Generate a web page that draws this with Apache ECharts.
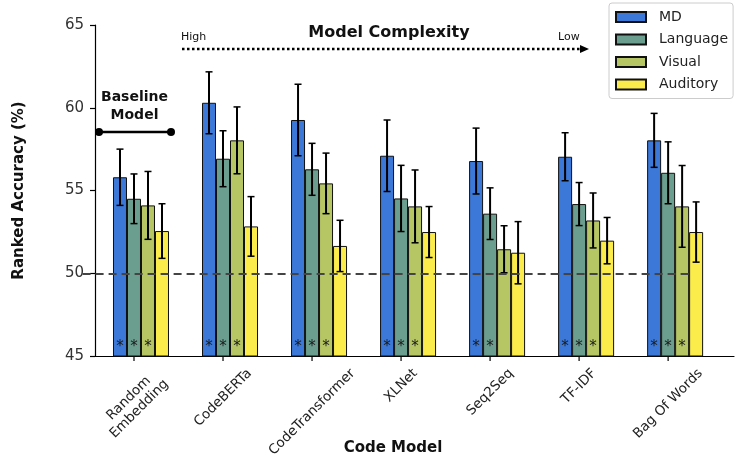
<!DOCTYPE html>
<html><head><meta charset="utf-8">
<script src="https://cdn.jsdelivr.net/npm/echarts@6/dist/echarts.min.js"></script>
<style>html,body{margin:0;padding:0;background:#fff}#c{width:735px;height:462px}</style>
</head><body><div id="c"></div>
<script>
// ---------- data ----------
const categories = ['Random\nEmbedding', 'CodeBERTa', 'CodeTransformer', 'XLNet', 'Seq2Seq', 'TF-IDF', 'Bag Of Words'];
const seriesNames = ['MD', 'Language', 'Visual', 'Auditory'];
const mdMean   = [55.8, 60.3, 59.26, 57.1, 56.78, 57.04, 58.03];
const mdErr    = [1.7, 1.87, 2.16, 2.16, 1.99, 1.45, 1.63];
const langMean = [54.5, 56.92, 56.28, 54.52, 53.6, 54.18, 56.07];
const langErr  = [1.5, 1.69, 1.57, 2.0, 1.56, 1.3, 1.87];
const visMean  = [54.1, 58.03, 55.43, 54.04, 51.45, 53.19, 54.04];
const visErr   = [2.05, 2.02, 1.83, 2.2, 1.42, 1.66, 2.47];
const audMean  = [52.55, 52.83, 51.65, 52.49, 51.24, 51.97, 52.49];
const audErr   = [1.65, 1.8, 1.55, 1.54, 1.88, 1.4, 1.82];
const mdSig    = [1, 1, 1, 1, 1, 1, 1];
const langSig  = [1, 1, 1, 1, 1, 1, 1];
const visSig   = [1, 1, 1, 1, 0, 1, 1];
const audSig   = [0, 0, 0, 0, 0, 0, 0];
const yTicks = [45, 50, 55, 60, 65];
const chanceLevel = 50;
const chanceSpan = [-0.42, 6.4];
const yAxisTitle = 'Ranked Accuracy (%)';
const xAxisTitle = 'Code Model';

// ---------- style ----------
const FONT = '"DejaVu Sans", Verdana, sans-serif';
const colors = ['#3b78d8', '#6b9e8f', '#b6c664', '#fbec4c'];
const BAR_W = 14;
const LABEL_FONT = '13.5px ' + FONT;
const means = [mdMean, langMean, visMean, audMean];
const errs = [mdErr, langErr, visErr, audErr];
const sigs = [mdSig, langSig, visSig, audSig];
const yMin = yTicks[0], yMax = yTicks[yTicks.length - 1];

const measureCtx = document.createElement('canvas').getContext('2d');
measureCtx.font = LABEL_FONT;

const series = [];
// invisible slot so each group sits like matplotlib's offset bars
series.push({ type: 'bar', name: '_slot', data: [], barWidth: BAR_W, barGap: '0%' });
seriesNames.forEach((name, k) => {
  const s = {
    type: 'bar', name, barWidth: BAR_W, barGap: '0%',
    data: categories.map((c, i) => [i, means[k][i]]),
    itemStyle: { color: colors[k], borderColor: '#111', borderWidth: 1 },
    emphasis: { disabled: true }
  };
  if (k === 0) {
    s.markLine = {
      silent: true, symbol: 'none', label: { show: false },
      lineStyle: { type: [8, 5], color: '#444', width: 2 },
      data: [[{ coord: [chanceSpan[0], chanceLevel] }, { coord: [chanceSpan[1], chanceLevel] }]]
    };
  }
  series.push(s);
});
seriesNames.forEach((name, k) => {
  series.push({
    type: 'custom', name, coordinateSystem: 'cartesian2d', clip: false, z: 4,
    encode: { x: 0, y: 1 },
    data: categories.map((c, i) => [i, means[k][i], errs[k][i], sigs[k][i]]),
    renderItem: function (params, api) {
      const i = api.value(0), m = api.value(1), e = api.value(2), sg = api.value(3);
      const x = api.coord([i, m])[0] + (k - 1) * BAR_W;
      const top = api.coord([i, m + e])[1];
      const bot = api.coord([i, m - e])[1];
      const base = api.coord([i, yMin])[1];
      const st = { stroke: '#000', lineWidth: 2 };
      const children = [
        { type: 'line', shape: { x1: x, y1: top, x2: x, y2: bot }, style: st },
        { type: 'line', shape: { x1: x - 3.5, y1: top, x2: x + 3.5, y2: top }, style: { stroke: '#000', lineWidth: 1.5 } },
        { type: 'line', shape: { x1: x - 3.5, y1: bot, x2: x + 3.5, y2: bot }, style: { stroke: '#000', lineWidth: 1.5 } }
      ];
      if (sg) children.push({ type: 'text', x: x, y: base - 9,
        style: { text: '*', font: '15px ' + FONT, fill: '#1a1a1a', align: 'center', verticalAlign: 'middle' } });
      return { type: 'group', children };
    }
  });
});
// category ticks and tick labels (rotated 45deg, centred under each tick)
series.push({
  type: 'custom', name: '_labels', coordinateSystem: 'cartesian2d', clip: false, silent: true,
  encode: { x: 0, y: 1 },
  data: categories.map((c, i) => [i, yMin]),
  renderItem: function (params, api) {
    const i = api.value(0);
    const p = api.coord([i, api.value(1)]);
    const lines = categories[i].split('\n');
    const w = Math.max.apply(null, lines.map(l => measureCtx.measureText(l).width));
    const h = lines.length * 15;
    const d = 0.7071 * (w + h) / 2;
    return { type: 'group', children: [
      { type: 'line', shape: { x1: p[0], y1: p[1], x2: p[0], y2: p[1] + 5 }, style: { stroke: '#000', lineWidth: 1.2 } },
      { type: 'text', x: p[0], y: p[1] + 10 + d, rotation: Math.PI / 4,
        style: { text: categories[i], font: LABEL_FONT, fill: '#222', align: 'center', verticalAlign: 'middle', lineHeight: 15 } }
    ] };
  }
});

const chart = echarts.init(document.getElementById('c'));
chart.setOption({
  animation: false,
  backgroundColor: '#fff',
  textStyle: { fontFamily: FONT },
  grid: { left: 95, right: 1, top: 25, bottom: 106 },
  xAxis: {
    type: 'value', min: -0.438, max: 6.74,
    splitLine: { show: false },
    axisLine: { show: true, onZero: false, lineStyle: { color: '#000', width: 1.2 } },
    axisTick: { show: false },
    axisLabel: { show: false }
  },
  yAxis: {
    type: 'value', min: yMin, max: yMax, interval: 5,
    name: yAxisTitle, nameLocation: 'middle', nameGap: 68, nameRotate: 90,
    nameTextStyle: { fontSize: 15, fontWeight: 'bold', color: '#111', fontFamily: FONT },
    splitLine: { show: false },
    axisLine: { show: true, onZero: false, lineStyle: { color: '#000', width: 1.2 } },
    axisTick: { show: true, length: 5, lineStyle: { color: '#000', width: 1.2 } },
    axisLabel: { fontSize: 15, color: '#333', margin: 11, fontFamily: FONT }
  },
  legend: {
    data: seriesNames, orient: 'vertical', left: 609, top: 3,
    itemWidth: 30, itemHeight: 10, itemGap: 6.5, icon: 'rect',
    padding: [6, 5, 6, 6], borderColor: '#ccc', borderWidth: 1, borderRadius: 3,
    backgroundColor: '#fff',
    textStyle: { fontSize: 14, color: '#222', fontFamily: FONT, lineHeight: 16, padding: [0, 0, 0, 8] },
    selectedMode: false
  },
  graphic: [
    { type: 'text', x: 389, y: 33, style: { text: 'Model Complexity', font: 'bold 16px ' + FONT, fill: '#111', align: 'center', verticalAlign: 'middle' } },
    { type: 'text', x: 181, y: 37, style: { text: 'High', font: '11px ' + FONT, fill: '#111', align: 'left', verticalAlign: 'middle' } },
    { type: 'text', x: 558, y: 37, style: { text: 'Low', font: '11px ' + FONT, fill: '#111', align: 'left', verticalAlign: 'middle' } },
    { type: 'line', shape: { x1: 182, y1: 49, x2: 581, y2: 49 }, style: { stroke: '#000', lineWidth: 2.5, lineDash: [2.5, 2.5] } },
    { type: 'polygon', shape: { points: [[580, 45], [589, 49], [580, 53]] }, style: { fill: '#000' } },
    { type: 'text', x: 134.5, y: 97, style: { text: 'Baseline', font: 'bold 14px ' + FONT, fill: '#111', align: 'center', verticalAlign: 'middle' } },
    { type: 'text', x: 134.5, y: 115, style: { text: 'Model', font: 'bold 14px ' + FONT, fill: '#111', align: 'center', verticalAlign: 'middle' } },
    { type: 'line', shape: { x1: 99, y1: 132, x2: 171, y2: 132 }, style: { stroke: '#000', lineWidth: 2.5 } },
    { type: 'circle', shape: { cx: 99, cy: 132, r: 4 }, style: { fill: '#000' } },
    { type: 'circle', shape: { cx: 171, cy: 132, r: 4 }, style: { fill: '#000' } },
    { type: 'text', x: 393, y: 448, style: { text: xAxisTitle, font: 'bold 15px ' + FONT, fill: '#111', align: 'center', verticalAlign: 'middle' } }
  ],
  series
});
</script>
</body></html>
